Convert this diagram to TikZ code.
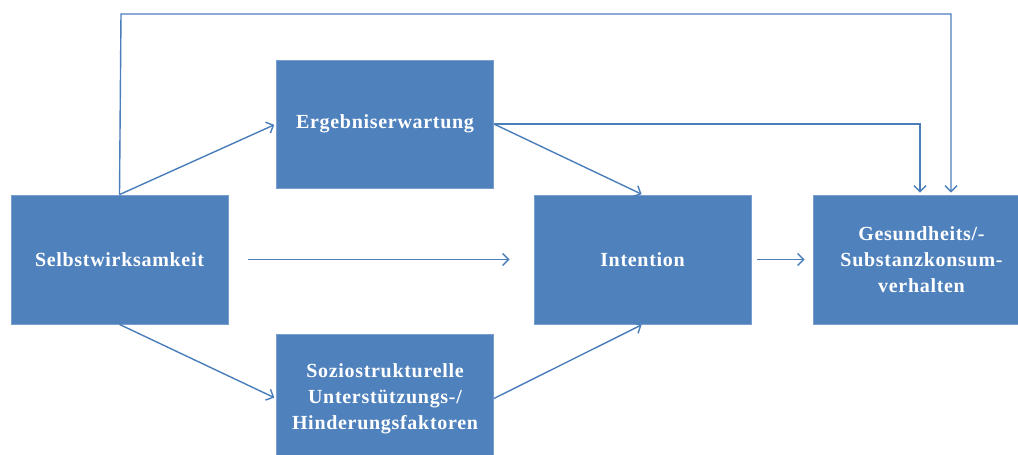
\documentclass[tikz,border=0pt]{standalone}
\usepackage{fontspec}
\setmainfont{Liberation Serif}
\usetikzlibrary{arrows.meta}
\definecolor{boxblue}{HTML}{4F81BD}
\definecolor{boxedge}{HTML}{7A9FCF}
\definecolor{linkblue}{HTML}{4A7EBB}
\begin{document}
\begin{tikzpicture}[x=1pt,y=-1pt,
  box/.style={fill=boxblue, draw=boxedge, line width=0.8pt, minimum width=217pt, minimum height=129pt,
    align=center, text=white, inner sep=0pt,
    font=\fontsize{20}{26}\selectfont\bfseries\addfontfeature{LetterSpace=3.5}},
  arr/.style={draw=linkblue, line width=1.4pt, -{Straight Barb[length=6pt,width=12pt,line width=1.4pt]}}]
\useasboundingbox (0,0) rectangle (1018,455);
\node[box] (s) at (119.5,259.5) {Selbstwirksamkeit};
\node[box, minimum height=128pt] (e) at (385,124) {Ergebniserwartung};
\node[box] (z) at (385,398.5) {Soziostrukturelle\\Unterstützungs-/\\Hinderungsfaktoren};
\node[box] (i) at (642.5,259.5) {Intention};
\node[box] (g) at (921.5,259.5) {Gesundheits/-\\Substanzkonsum-\\verhalten};
\coordinate (tl) at (121,14);
\coordinate (tr) at (951,14);
\draw[arr, shorten >=2pt] (s.north) -- (tl) -- (tr) -- ([xshift=29.5pt]g.north);
\draw[arr, shorten >=2pt] (s.north) -- (e.west);
\draw[arr, shorten >=2pt] (s.south) -- (z.west);
\draw[arr] ([xshift=20pt]s.east) -- ([xshift=-24pt]i.west);
\draw[arr, shorten >=1pt] (e.east) -- (i.north);
\draw[arr, shorten >=2pt] (e.east) -| ([xshift=-1.5pt]g.north);
\draw[arr, shorten >=1pt] (z.east) -- (i.south);
\draw[arr] ([xshift=6pt]i.east) -- ([xshift=-8pt]g.west);
\end{tikzpicture}
\end{document}
